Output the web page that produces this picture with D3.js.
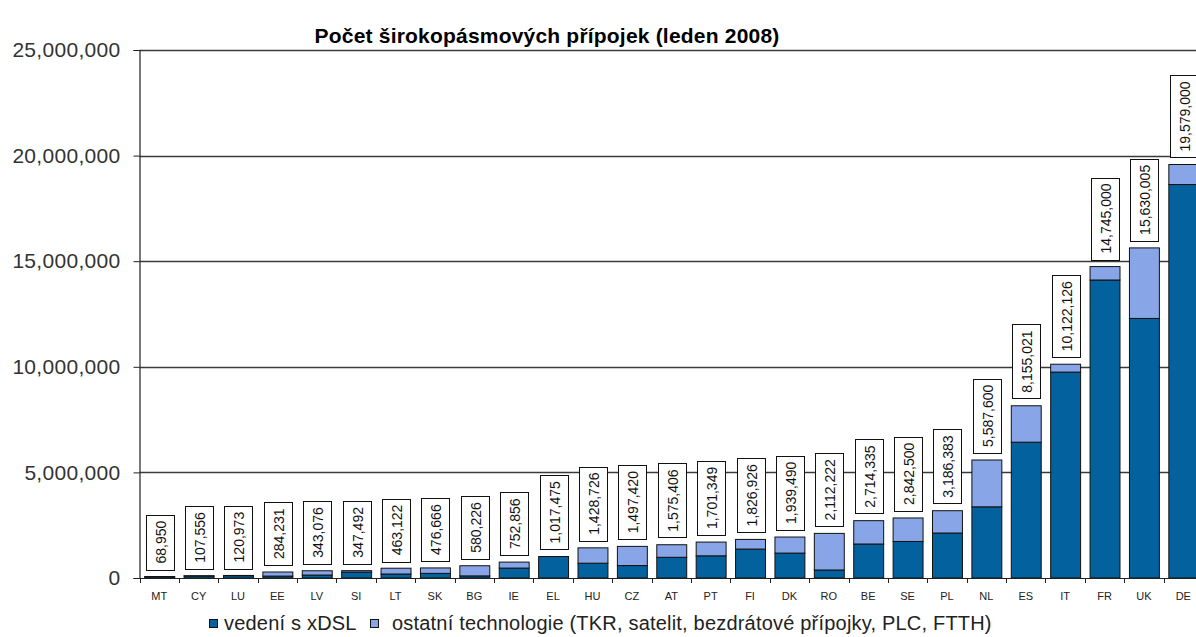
<!DOCTYPE html>
<html>
<head>
<meta charset="utf-8">
<script src="https://cdn.jsdelivr.net/npm/d3@7"></script>
<style>
    body { margin: 0; background: #fff; }
    svg { display: block; font-family: "Liberation Sans", Arial, sans-serif; }
</style>
</head>
<body>
<svg id="chart" width="1196" height="637"></svg>
<script>
// countries (Jan 2008)
let countries = ["MT", "CY", "LU", "EE", "LV", "SI", "LT", "SK", "BG", "IE", "EL", "HU", "CZ", "AT",
    "PT", "FI", "DK", "RO", "BE", "SE", "PL", "NL", "ES", "IT", "FR", "UK", "DE"];

// xDSL lines
let xdslValues = [60000, 95000, 110000, 90000, 140000, 280000, 190000, 220000, 100000, 470000,
    1017475, 700000, 590000, 980000, 1050000, 1370000, 1180000, 380000, 1610000, 1730000,
    2130000, 3370000, 6430000, 9750000, 14110000, 12290000, 18630000];

// other technologies
let otherValues = [8950, 12556, 10973, 194231, 203076, 67492, 273122, 256666, 480226, 282856,
    0, 728726, 907420, 595406, 651349, 456926, 759490, 1732222, 1104335, 1112500,
    1056383, 2217600, 1725021, 372126, 635000, 3340005, 949000];

// totals printed in the boxes
let totalLabels = [68950, 107556, 120973, 284231, 343076, 347492, 463122, 476666, 580226, 752856,
    1017475, 1428726, 1497420, 1575406, 1701349, 1826926, 1939490, 2112222, 2714335, 2842500,
    3186383, 5587600, 8155021, 10122126, 14745000, 15630005, 19579000];

let yTicks = [0, 5000000, 10000000, 15000000, 20000000, 25000000];
let seriesNames = ["vedení s xDSL", "ostatní technologie (TKR, satelit, bezdrátové přípojky, PLC, FTTH)"];
let seriesColors = ["#03619e", "#87a5e7"];

let svg = d3.select("#chart");
let plotLeft = 139.5, plotRight = 1203, plotTop = 50, plotBottom = 578;

let rows = countries.map(function (c, i) {
    return { country: c, xdsl: xdslValues[i], other: otherValues[i], total: totalLabels[i] };
});

let xSlot = d3.scaleBand().domain(countries).range([plotLeft, plotRight]).padding(0);
let xScale = d3.scaleBand().domain(countries).range([plotLeft, plotRight])
    .paddingInner(0.24).paddingOuter(0.12);
let yScale = d3.scaleLinear().domain([0, 25000000]).range([plotBottom, plotTop]);

// gridlines
svg.append("g").selectAll("line")
    .data(yTicks.filter(function (d) { return d > 0; }))
    .enter().append("line")
    .attr("x1", plotLeft).attr("x2", plotRight)
    .attr("y1", function (d) { return Math.round(yScale(d)) + 0.5; })
    .attr("y2", function (d) { return Math.round(yScale(d)) + 0.5; })
    .attr("stroke", "#3a3a3a").attr("stroke-width", 1.3);

// stacked bars
let stack = d3.stack().keys(["xdsl", "other"]);
let layers = stack(rows);

svg.append("g").selectAll("g")
    .data(layers)
    .enter().append("g")
    .attr("fill", function (d, i) { return seriesColors[i]; })
    .selectAll("rect")
    .data(function (d) { return d; })
    .enter().append("rect")
    .attr("x", function (d) { return xScale(d.data.country) + 0.5; })
    .attr("y", function (d) { return yScale(d[1]); })
    .attr("width", xScale.bandwidth())
    .attr("height", function (d) { return yScale(d[0]) - yScale(d[1]); })
    .attr("stroke", function (d) { return d[1] - d[0] > 0 ? "#111" : "none"; })
    .attr("stroke-width", 1);

// y axis
let yAxis = d3.axisLeft(yScale).tickValues(yTicks).tickSize(6).tickPadding(13)
    .tickFormat(d3.format(","));
let yAxisG = svg.append("g")
    .attr("transform", "translate(" + plotLeft + ",0)")
    .call(yAxis);
yAxisG.select(".domain").attr("stroke", "#222").attr("stroke-width", 1.2);
yAxisG.selectAll(".tick line").attr("stroke", "#222");
yAxisG.selectAll("text")
    .attr("font-size", 21).attr("fill", "#333")
    .attr("font-family", "Liberation Sans, Arial, sans-serif")
    .attr("letter-spacing", 0.3);

// x axis line + ticks at slot edges
svg.append("line")
    .attr("x1", plotLeft).attr("x2", plotRight)
    .attr("y1", plotBottom + 0.5).attr("y2", plotBottom + 0.5)
    .attr("stroke", "#222").attr("stroke-width", 1.2);
svg.append("g").selectAll("line")
    .data(countries)
    .enter().append("line")
    .attr("x1", function (d) { return Math.round(xSlot(d)) + 0.5; })
    .attr("x2", function (d) { return Math.round(xSlot(d)) + 0.5; })
    .attr("y1", plotBottom).attr("y2", plotBottom + 5)
    .attr("stroke", "#222");
svg.append("g").selectAll("text")
    .data(countries)
    .enter().append("text")
    .attr("x", function (d) { return xSlot(d) + xSlot.bandwidth() / 2; })
    .attr("y", 600)
    .attr("text-anchor", "middle")
    .attr("font-size", 11)
    .attr("fill", "#222")
    .text(function (d) { return d; });

// total labels in boxes
let fmt = d3.format(",");
let labels = svg.append("g").selectAll("g")
    .data(rows)
    .enter().append("g");

labels.each(function (d) {
    let g = d3.select(this);
    let cx = xScale(d.country) + xScale.bandwidth() / 2 + 0.5;
    let rect = g.append("rect");
    let txt = g.append("text")
        .attr("font-size", 14)
        .attr("fill", "#111")
        .attr("text-anchor", "middle")
        .attr("dominant-baseline", "central")
        .text(fmt(d.total));
    let len = txt.node().getComputedTextLength();
    let h = len + 12;
    let boxBottom = yScale(d.total) - 7;
    rect.attr("x", Math.round(cx - 14) + 0.5)
        .attr("y", Math.round(boxBottom - h) + 0.5)
        .attr("width", 28)
        .attr("height", Math.round(h))
        .attr("fill", "#fff")
        .attr("stroke", "#111")
        .attr("stroke-width", 1);
    txt.attr("transform", "translate(" + (cx + 1) + "," + (boxBottom - h / 2) + ") rotate(-90)");
});

// title
svg.append("text")
    .attr("x", 547).attr("y", 43)
    .attr("text-anchor", "middle")
    .attr("font-size", 21)
    .attr("font-weight", "bold")
    .attr("letter-spacing", 0.2)
    .attr("fill", "#000")
    .text("Počet širokopásmových přípojek (leden 2008)");

// legend
let legendX = [209, 370];
let legend = svg.append("g").selectAll("g")
    .data(seriesNames)
    .enter().append("g")
    .attr("transform", function (d, i) { return "translate(" + legendX[i] + ",619)"; });
legend.append("rect")
    .attr("x", 0.5).attr("y", 0.5)
    .attr("width", 8).attr("height", 8)
    .attr("fill", function (d, i) { return seriesColors[i]; })
    .attr("stroke", "#111");
legend.append("text")
    .attr("x", function (d, i) { return i === 0 ? 15 : 22; })
    .attr("y", 11)
    .attr("font-size", 20)
    .attr("letter-spacing", 0.2)
    .attr("fill", "#222")
    .text(function (d) { return d; });
</script>
</body>
</html>
